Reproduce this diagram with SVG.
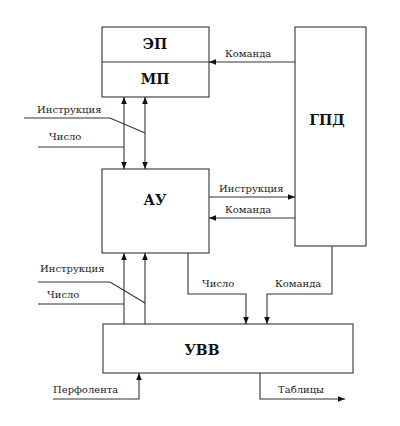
<svg xmlns="http://www.w3.org/2000/svg" width="400" height="426" viewBox="0 0 400 426">
<defs>
<marker id="ah" viewBox="0 0 10 10" refX="10" refY="5" markerWidth="7" markerHeight="7" orient="auto-start-reverse" markerUnits="userSpaceOnUse">
<path d="M0,1 L10,5 L0,9 Z" fill="#111"/>
</marker>
<style>
.box{fill:#fff;stroke:#333;stroke-width:1.1}
.ln{fill:none;stroke:#333;stroke-width:1.1}
.t{font-family:"DejaVu Serif","Liberation Serif",serif;font-size:10px;fill:#222}
.b{font-family:"DejaVu Serif","Liberation Serif",serif;font-size:14px;font-weight:bold;fill:#111;text-anchor:middle}
</style>
</defs>
<rect width="400" height="426" fill="#fff"/>
<g id="ep-mp">
<rect class="box" x="102" y="27" width="107" height="70"/>
<line class="ln" x1="102" y1="62" x2="209" y2="62"/>
<text class="b" x="155" y="49">ЭП</text>
<text class="b" x="155" y="84">МП</text>
</g>
<g id="gpd">
<rect class="box" x="295" y="27" width="71" height="219"/>
<text class="b" x="327" y="125">ГПД</text>
</g>
<g id="au">
<rect class="box" x="102" y="169" width="107" height="84"/>
<text class="b" x="155" y="205">АУ</text>
</g>
<g id="uvv">
<rect class="box" x="103" y="324" width="250" height="49"/>
<text class="b" x="202" y="355">УВВ</text>
</g>
<g id="connectors">
<line class="ln" x1="295" y1="62" x2="209" y2="62" marker-end="url(#ah)"/>
<text class="t" x="225" y="57">Команда</text>
<line class="ln" x1="124" y1="97" x2="124" y2="169" marker-start="url(#ah)" marker-end="url(#ah)"/>
<line class="ln" x1="145" y1="97" x2="145" y2="169" marker-start="url(#ah)" marker-end="url(#ah)"/>
<polyline class="ln" points="24,118 110,118 145,133"/>
<text class="t" x="37" y="113">Инструкция</text>
<line class="ln" x1="38" y1="147" x2="124" y2="147"/>
<text class="t" x="49" y="140">Число</text>
<line class="ln" x1="209" y1="197" x2="295" y2="197" marker-end="url(#ah)"/>
<text class="t" x="219" y="192">Инструкция</text>
<line class="ln" x1="295" y1="218" x2="209" y2="218" marker-end="url(#ah)"/>
<text class="t" x="225" y="213">Команда</text>
<line class="ln" x1="124" y1="324" x2="124" y2="253" marker-end="url(#ah)"/>
<line class="ln" x1="145" y1="324" x2="145" y2="253" marker-end="url(#ah)"/>
<polyline class="ln" points="38,282 110,282 145,303"/>
<text class="t" x="40" y="272">Инструкция</text>
<line class="ln" x1="38" y1="304" x2="124" y2="304"/>
<text class="t" x="47" y="298">Число</text>
<polyline class="ln" points="188,253 188,294 246,294 246,324" marker-end="url(#ah)"/>
<text class="t" x="202" y="287">Число</text>
<polyline class="ln" points="332,246 332,294 267,294 267,324" marker-end="url(#ah)"/>
<text class="t" x="275" y="287">Команда</text>
<polyline class="ln" points="53,399 139,399 139,373" marker-end="url(#ah)"/>
<text class="t" x="53" y="393">Перфолента</text>
<polyline class="ln" points="260,373 260,399 345,399" marker-end="url(#ah)"/>
<text class="t" x="278" y="393">Таблицы</text>
</g>
</svg>
